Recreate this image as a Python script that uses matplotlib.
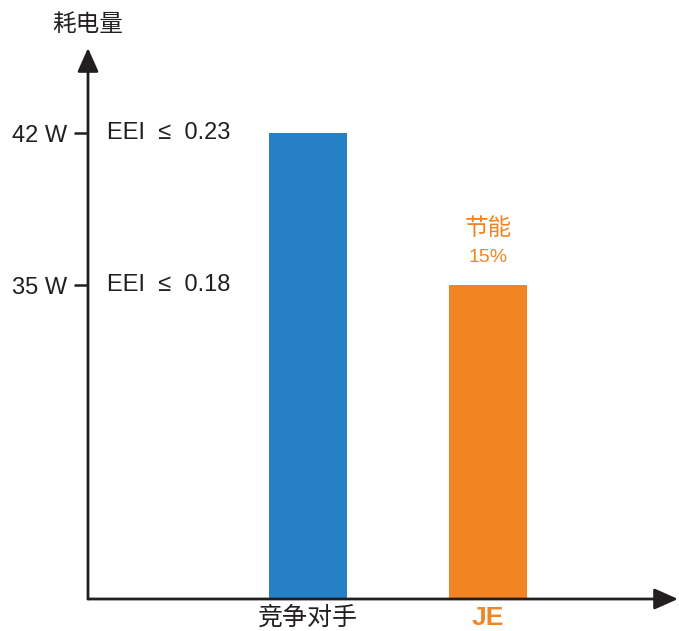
import matplotlib
matplotlib.use("Agg")
import matplotlib.pyplot as plt

# -------------------------------
# DATA
# -------------------------------
categories = ['竞争对手', 'JE']
power = [42, 35]
tick_values = [42, 35]
tick_labels = ['42 W', '35 W']
eei_labels = ['EEI  \u2264  0.23', 'EEI  \u2264  0.18']
saving_label = '节能'
saving_pct = '15%'

blue = '#2680C6'
orange = '#F28522'
dark = '#231f20'

plt.rcParams['font.family'] = ['Liberation Sans', 'Noto Sans CJK SC', 'DejaVu Sans']

# -------------------------------
# PLOT
# -------------------------------
fig = plt.figure(figsize=(6.79, 6.31), dpi=100)
ax = fig.add_axes([88 / 679, 32 / 631, 590 / 679, 551 / 631])

x = [1, 2]
ax.bar(x, power, width=0.433, color=[blue, orange], bottom=0)
ax.set_xlim(-0.222, 3.055)
ax.set_ylim(20.55, 45.93)

for s in ax.spines.values():
    s.set_visible(False)

# axes with arrows
arrow = dict(arrowstyle='-|>,head_length=0.9,head_width=0.4', color=dark, lw=2,
             mutation_scale=16, shrinkA=0, shrinkB=0)
ax.annotate('', xy=(1.0, 0), xytext=(0, 0), xycoords='axes fraction', arrowprops=arrow)
ax.annotate('', xy=(0, 1.0), xytext=(0, 0), xycoords='axes fraction', arrowprops=arrow)

ax.set_yticks(tick_values)
ax.set_yticklabels(tick_labels, fontsize=17, color=dark)
ax.tick_params(axis='y', length=10, width=1.8, color=dark, pad=5)
ax.set_xticks([])

for v, lab in zip(tick_values, eei_labels):
    ax.text(-0.116, v, lab, fontsize=17, color=dark, va='center', ha='left')

ax.text(0, 1.042, '耗电量', transform=ax.transAxes, ha='center', va='center',
        fontsize=17, color=dark)

ax.text(2, power[1] + 2.6, saving_label, ha='center', va='center', fontsize=17, color=orange)
ax.text(2, power[1] + 1.3, saving_pct, ha='center', va='center', fontsize=14, color=orange)

ax.text(1, -0.034, categories[0], transform=ax.get_xaxis_transform(), ha='center', va='center',
        fontsize=18, color=dark)
ax.text(2, -0.034, categories[1], transform=ax.get_xaxis_transform(), ha='center', va='center',
        fontsize=19, color=orange, fontweight='bold')

fig.savefig('out.png', dpi=100)
